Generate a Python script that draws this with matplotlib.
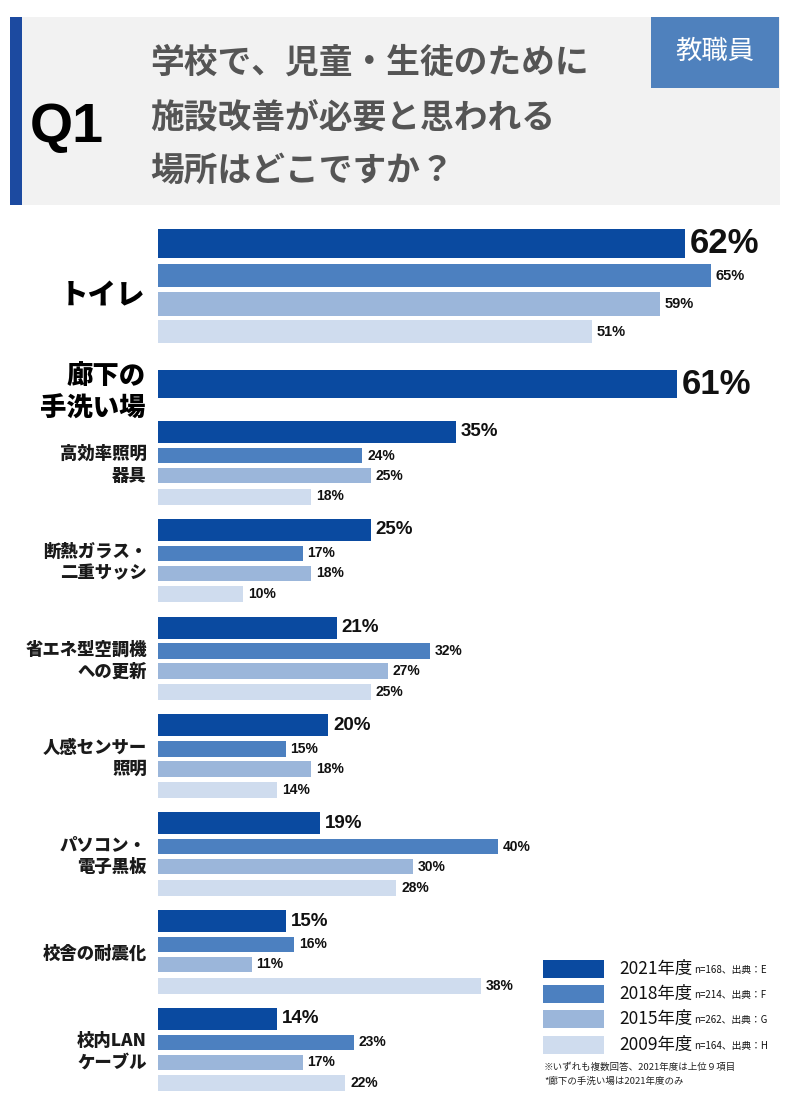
import matplotlib
matplotlib.use("Agg")
import matplotlib.pyplot as plt
from matplotlib.patches import Rectangle

# ---------------- data ----------------
years = ["2021年度", "2018年度", "2015年度", "2009年度"]
year_notes = ["n=168、出典：E", "n=214、出典：F", "n=262、出典：G", "n=164、出典：H"]
colors = ["#0A4AA0", "#4C80C0", "#9BB6DA", "#CFDCEE"]

top_categories = ["トイレ", "廊下の\n手洗い場"]
toilet_values = [62, 65, 59, 51]
corridor_values = [61]

categories = ["高効率照明\n器具", "断熱ガラス・\n二重サッシ", "省エネ型空調機\nへの更新",
              "人感センサー\n照明", "パソコン・\n電子黒板", "校舎の耐震化", "校内LAN\nケーブル"]
v2021 = [35, 25, 21, 20, 19, 15, 14]
v2018 = [24, 17, 32, 15, 40, 16, 23]
v2015 = [25, 18, 27, 18, 30, 11, 17]
v2009 = [18, 10, 25, 14, 28, 38, 22]

title_lines = ["学校で、児童・生徒のために", "施設改善が必要と思われる", "場所はどこですか？"]
badge = "教職員"
notes = ["※いずれも複数回答、2021年度は上位９項目", "*廊下の手洗い場は2021年度のみ"]

# ---------------- fonts ----------------
JP = ["Noto Sans CJK JP", "DejaVu Sans"]
NUM = ["Liberation Sans Narrow", "Liberation Sans", "DejaVu Sans"]
plt.rcParams["font.family"] = JP

W, H = 800, 1115
fig = plt.figure(figsize=(W / 100, H / 100), dpi=100)
fig.patch.set_facecolor("white")

# overlay axes in pixel coordinates for header / legend
ov = fig.add_axes([0, 0, 1, 1])
ov.set_xlim(0, W)
ov.set_ylim(H, 0)
ov.axis("off")

# header
ov.add_patch(Rectangle((10, 17), 770, 188, color="#F2F2F2", lw=0))
ov.add_patch(Rectangle((10, 17), 12, 188, color="#1C4AA0", lw=0))
ov.add_patch(Rectangle((651, 17), 128, 71, color="#4F81BD", lw=0))
ov.text(715, 51, badge, color="white", fontsize=19, ha="center", va="center")
ov.text(30, 128, "Q1", fontsize=40, fontweight="bold", family=["Liberation Sans", "DejaVu Sans"],
        ha="left", va="center", color="black")
for yy, line in zip([62, 117, 170], title_lines):
    ov.text(150, yy, line, fontsize=24.3, fontweight="bold", color="#555555", ha="left", va="center")

# ---------------- bars ----------------
x0 = 158
px_per_pct = 8.5
ax = fig.add_axes([x0 / W, 0, (W - x0) / W, 1])
ax.set_xlim(0, (W - x0) / px_per_pct)
ax.set_ylim(H, 0)
ax.axis("off")

def label(x, y, v, size):
    ax.text(x + 0.6, y, f"{v}%", fontsize=size, fontweight="bold", family=NUM,
            fontstretch="condensed", ha="left", va="center", color="#111111")

# toilet
t_centers = [243.5, 275.5, 304, 331.5]
t_heights = [29, 23, 24, 23]
t_sizes = [25, 10.5, 10.5, 10.5]
for i, v in enumerate(toilet_values):
    ax.barh(t_centers[i], v, height=t_heights[i], color=colors[i], left=0)
    label(v, t_centers[i], v, t_sizes[i])
ax.text(-1.5, 296, top_categories[0], fontsize=20.5, fontweight="heavy", ha="right", va="center")

# corridor
ax.barh(384, corridor_values[0], height=28, color=colors[0])
label(corridor_values[0], 384, corridor_values[0], 25)
ax.text(-1.5, 393, top_categories[1], fontsize=19, fontweight="heavy", ha="right", va="center",
        linespacing=1.15)

# small groups
series = [v2021, v2018, v2015, v2009]
offsets = [11, 34.5, 54.5, 75.5]
heights = [22, 15.5, 15.5, 16]
sizes = [13.5, 10, 10, 10]
period = 97.8
for g, cat in enumerate(categories):
    top = 421 + period * g
    for s in range(4):
        v = series[s][g]
        yc = top + offsets[s]
        ax.barh(yc, v, height=heights[s], color=colors[s])
        label(v, yc, v, sizes[s])
    ax.text(-1.3, top + 44, cat, fontsize=12.5, fontweight="heavy", ha="right", va="center",
            linespacing=1.25, color="#1a1a1a")

# ---------------- legend ----------------
leg_y = [960, 985, 1010, 1036]
for i in range(4):
    ov.add_patch(Rectangle((543, leg_y[i]), 61, 17.5, color=colors[i], lw=0))
    ov.text(619, leg_y[i] + 9, years[i], fontsize=12.5, ha="left", va="center", color="#111111")
    ov.text(694, leg_y[i] + 10, year_notes[i], fontsize=7, ha="left", va="center", color="#111111")
ov.text(544, 1067, notes[0], fontsize=6.8, ha="left", va="center", color="#222222")
ov.text(544, 1081, notes[1], fontsize=6.8, ha="left", va="center", color="#222222")

fig.savefig("out.png", dpi=100, facecolor="white")
